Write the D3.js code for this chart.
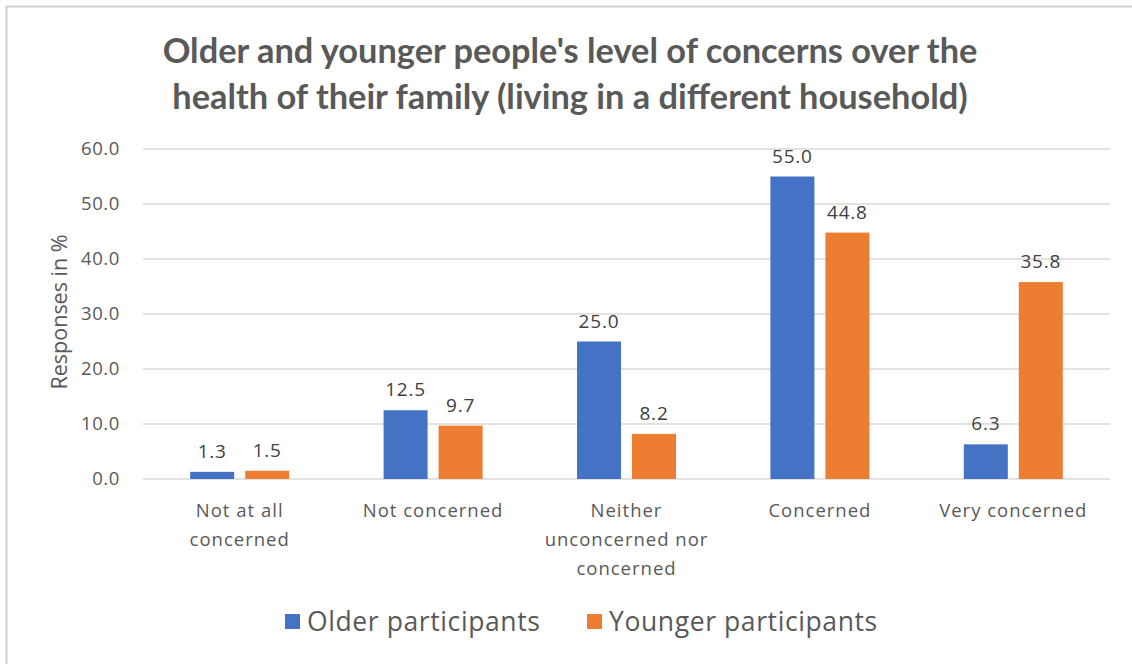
<!DOCTYPE html>
<html>
<head>
<meta charset="utf-8">
<script src="https://cdn.jsdelivr.net/npm/d3@7"></script>
<style>
  body { margin: 0; background: #fff; }
  text { font-family: "Open Sans", sans-serif; }
</style>
</head>
<body>
<svg id="chart" width="1132" height="664"></svg>
<script>
const categories = [
  ["Not at all", "concerned"],
  ["Not concerned"],
  ["Neither", "unconcerned nor", "concerned"],
  ["Concerned"],
  ["Very concerned"]
]
const older = [1.3, 12.5, 25.0, 55.0, 6.3]
const younger = [1.5, 9.7, 8.2, 44.8, 35.8]
const seriesNames = ["Older participants", "Younger participants"]
const yTicks = [0, 10, 20, 30, 40, 50, 60]
const titleLines = [
  "Older and younger people's level of concerns over the",
  "health of their family (living in a different household)"
]

let width = 1132, height = 664,
    margins = {left: 143, right: 22, top: 149, bottom: 185}

let colors = ["#4472C4", "#ED7D31"]

function visualize() {
  let svg = d3.select("#chart")
  let scales = make_scales()

  // frame
  svg.append("path")
    .attr("d", `M6.5,${height} V6.5 H${width}`)
    .attr("fill", "none")
    .attr("stroke", "#d0d0d0")
    .attr("stroke-width", 2)

  // title, sized so the first line is about as wide as in the original
  let title = svg.append("g").selectAll("text")
    .data(titleLines).enter()
    .append("text")
    .attrs({
      x: 570,
      y: (d, i) => 63 + i * 46,
      "text-anchor": "middle",
      fill: "#595959",
      "font-size": 30,
      "font-weight": "bold"
    })
    .style("font-family", 'Lato, sans-serif')
    .text(d => d)
  let w0 = title.node().getComputedTextLength()
  title.attr("font-size", 30 * 815 / w0)

  // grid + y labels
  let grid = svg.append("g")
  grid.selectAll("line")
    .data(yTicks).enter()
    .append("line")
    .attrs({
      x1: margins.left, x2: width - margins.right,
      y1: d => scales.y(d), y2: d => scales.y(d),
      stroke: "#d9d9d9", "stroke-width": 1.5
    })
  grid.selectAll("text")
    .data(yTicks).enter()
    .append("text")
    .attrs({
      x: 120, y: d => scales.y(d), dy: "0.35em",
      "text-anchor": "end", fill: "#595959", "font-size": 18.5,
      "letter-spacing": 0.6
    })
    .text(d => d.toFixed(1))

  svg.append("text")
    .attrs({
      transform: `translate(59, ${scales.y(30) - 2}) rotate(-90)`,
      dy: "0.35em", "text-anchor": "middle", fill: "#595959", "font-size": 21.5
    })
    .text("Responses in %")

  // bars
  let rows = categories.map((c, i) => ({i: i, vals: [older[i], younger[i]]}))
  let groups = svg.append("g").selectAll("g")
    .data(rows).enter()
    .append("g")
    .attr("transform", d => `translate(${scales.x(d.i)}, 0)`)

  let bars = groups.selectAll("g")
    .data(d => d.vals.map((v, s) => ({v: v, s: s}))).enter()
    .append("g")
  bars.append("rect")
    .attrs({
      x: d => scales.inner(d.s),
      y: d => scales.y(d.v),
      width: scales.inner.bandwidth(),
      height: d => scales.y(0) - scales.y(d.v),
      fill: d => colors[d.s]
    })
  bars.append("text")
    .attrs({
      x: d => scales.inner(d.s) + scales.inner.bandwidth() / 2,
      y: d => scales.y(d.v) - 14,
      "text-anchor": "middle", fill: "#404040", "font-size": 19,
      "letter-spacing": 0.8
    })
    .text(d => d.v.toFixed(1))

  // category labels
  groups.append("g").selectAll("text")
    .data(d => categories[d.i]).enter()
    .append("text")
    .attrs({
      x: scales.x.bandwidth() / 2,
      y: (d, i) => 517 + i * 29,
      "text-anchor": "middle", fill: "#595959", "font-size": 18.5,
      "letter-spacing": 1
    })
    .text(d => d)

  annotate(svg)
}

function annotate(svg) {
  let xs = [285, 587]
  let legend = svg.append("g").selectAll("g")
    .data(seriesNames).enter()
    .append("g")
    .attr("transform", (d, i) => `translate(${xs[i]}, 622)`)
  legend.append("rect")
    .attrs({x: 0, y: -8, width: 15, height: 15, fill: (d, i) => colors[i]})
  legend.append("text")
    .attrs({x: 22, dy: "0.35em", fill: "#595959", "font-size": 26.5,
      "letter-spacing": 0.6})
    .text(d => d)
}

function make_scales() {
  let x = d3.scaleBand()
    .domain(d3.range(categories.length))
    .range([margins.left, width - margins.right])
  return {
    x: x,
    inner: d3.scaleBand()
      .domain([0, 1])
      .range([(x.bandwidth() - 99) / 2, (x.bandwidth() + 99) / 2])
      .paddingInner(0.2),
    y: d3.scaleLinear()
      .domain([0, 60])
      .range([height - margins.bottom, margins.top])
  }
}

// d3 v7 has no .attrs, add a tiny one
d3.selection.prototype.attrs = function(obj) {
  for (let k in obj) this.attr(k, obj[k])
  return this
}

visualize()
</script>
</body>
</html>
